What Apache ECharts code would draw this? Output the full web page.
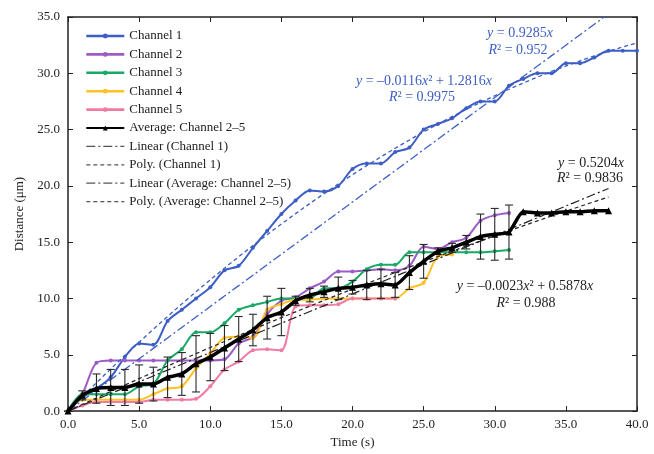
<!DOCTYPE html>
<html><head><meta charset="utf-8">
<script src="https://cdn.jsdelivr.net/npm/echarts@6/dist/echarts.min.js"></script>
<style>html,body{margin:0;padding:0;background:#fff}#c{width:654px;height:454px}</style>
</head><body><div id="c"></div>
<script>
// ---- data ----
const time = [0,1,2,3,4,5,6,7,8,9,10,11,12,13,14,15,16,17,18,19,20,21,22,23,24,25,26,27,28,29,30,31,32,33,34,35,36,37,38,39,40];
const channel1 = [0,1.2,2.0,3.0,4.8,6.0,5.9,8.0,9.0,10.0,11.0,12.5,12.9,14.5,16.0,17.5,18.7,19.6,19.5,20.0,21.5,22.0,22.0,23.0,23.4,25.0,25.5,26.0,26.9,27.5,27.5,28.9,29.5,30.0,30.0,30.9,30.9,31.4,32.0,32.0,32.0];
const channel2 = [0,1.5,4.3,4.5,4.5,4.5,4.5,4.5,4.5,4.5,4.5,4.6,6.0,6.6,8.6,9.8,10.1,10.9,11.5,12.4,12.4,12.5,12.6,12.5,12.9,14.6,14.4,15.0,15.4,16.9,17.4,17.6];
const channel3 = [0,1.5,1.5,1.5,1.5,2.2,2.4,4.5,5.5,7.0,7.0,7.8,9.0,9.4,9.7,10.0,10.0,10.0,10.9,10.9,11.5,12.6,13.0,13.0,14.1,14.1,14.1,14.1,14.1,14.1,14.2,14.3];
const channel4 = [0,1.0,1.0,1.0,1.0,1.0,1.5,2.0,2.2,3.8,5.1,6.5,6.6,6.5,9.0,9.5,9.9,9.9,10.0,10.0,10.0,10.0,10.0,10.0,10.9,11.4,13.7,13.9];
const channel5 = [0,0.5,0.8,0.8,0.8,0.8,1.0,1.0,1.0,1.1,2.2,3.7,4.4,5.4,5.5,5.4,9.3,9.4,9.4,9.5,10.0,10.0,10.0,10.0];
const average = [0,1.4,2.0,2.1,2.1,2.4,2.4,3.0,3.3,4.2,4.8,5.6,6.4,7.2,8.3,8.8,9.8,10.3,10.6,10.9,11.0,11.2,11.3,11.2,12.3,13.3,14.2,14.5,15.0,15.5,15.7,15.9,17.7,17.6,17.6,17.7,17.7,17.8,17.8];
const averageErr = [0,0.4,1.3,1.6,1.6,1.7,1.5,1.8,1.9,2.5,2.1,2.0,2.0,1.4,1.9,2.1,0.4,0.6,0.5,1.0,0.6,1.3,1.3,1.1,1.5,1.5,0.3,0.4,0.6,2.0,2.3,2.4];
// trend-line coefficients as printed in the chart: [a2, a1] for y = a2*x^2 + a1*x
const linCh1 = [0, 0.9285];
const polyCh1 = [-0.0116, 1.2816];
const linAvg = [0, 0.5204];
const polyAvg = [-0.0023, 0.5878];
const trendRangeCh1 = [0, 40];
const trendRangeAvg = [0, 38];
const xTicks = [0,5,10,15,20,25,30,35,40];
const yTicks = [0,5,10,15,20,25,30,35];

const pairs = (arr) => arr.map((v,i)=>[time[i], v]);
const trend = (c, r) => { const out=[]; for (let x=r[0]; x<=r[1]+1e-9; x+=0.5) out.push([x, c[0]*x*x + c[1]*x]); return out; };
const errData = averageErr.map((e,i)=>[time[i], average[i]-e, average[i]+e]);

const FONT = 'Liberation Serif';
const C1='#3D5EC4', C2='#9B5CC6', C3='#19A866', C4='#FFC125', C5='#F27BA5';

const axisCommon = {
  type:'value', splitLine:{show:false},
  axisLine:{show:true, onZero:false, lineStyle:{color:'#222', width:1.5}},
  axisTick:{show:true, inside:true, length:5, lineStyle:{color:'#222', width:1}},
};
const chart = echarts.init(document.getElementById('c'), null, {renderer:'canvas'});
const lineSeries = (name, arr, color) => ({
  name, type:'line', data: pairs(arr), smooth:0.3, symbol:'circle', symbolSize:4, showSymbol:true,
  lineStyle:{color, width:2}, itemStyle:{color}, z:3
});
const grayLegend = {color:'#555', width:1.2};
const hiddenSym = {opacity:0};
const chLegend = (name, c) => ({name, lineStyle:{color:c, width:2.6}});
chart.setOption({
  animation:false,
  backgroundColor:'#fff',
  grid:{left:68, right:17, top:17, bottom:41},
  xAxis:[
    Object.assign({}, axisCommon, {min:xTicks[0], max:xTicks[xTicks.length-1], interval:5, position:'bottom',
      axisLabel:{formatter:v=>v.toFixed(1), color:'#222', fontFamily:FONT, fontSize:13, margin:7},
      name:'Time (s)', nameLocation:'middle', nameGap:22, nameTextStyle:{fontFamily:FONT, fontSize:13, color:'#222'}}),
    Object.assign({}, axisCommon, {min:xTicks[0], max:xTicks[xTicks.length-1], interval:5, position:'top', axisLabel:{show:false}})
  ],
  yAxis:[
    Object.assign({}, axisCommon, {min:yTicks[0], max:yTicks[yTicks.length-1], interval:5, position:'left',
      axisLabel:{formatter:v=>v.toFixed(1), color:'#222', fontFamily:FONT, fontSize:13, margin:8},
      name:'Distance (μm)', nameLocation:'middle', nameGap:37, nameTextStyle:{fontFamily:FONT, fontSize:13, color:'#222'}}),
    Object.assign({}, axisCommon, {min:yTicks[0], max:yTicks[yTicks.length-1], interval:5, position:'right', axisLabel:{show:false}})
  ],
  legend:{
    orient:'vertical', left:85, top:29, padding:0, itemWidth:38, itemHeight:6, itemGap:4.4,
    textStyle:{fontFamily:FONT, fontSize:13, color:'#222', lineHeight:14},
    data:[
      chLegend('Channel 1', C1), chLegend('Channel 2', C2), chLegend('Channel 3', C3),
      chLegend('Channel 4', C4), chLegend('Channel 5', C5),
      {name:'Average: Channel 2–5', itemStyle:{color:'#000'}},
      {name:'Linear (Channel 1)', lineStyle:grayLegend, itemStyle:hiddenSym},
      {name:'Poly. (Channel 1)', lineStyle:grayLegend, itemStyle:hiddenSym},
      {name:'Linear (Average: Channel 2–5)', lineStyle:grayLegend, itemStyle:hiddenSym},
      {name:'Poly. (Average: Channel 2–5)', lineStyle:grayLegend, itemStyle:hiddenSym}
    ]
  },
  series:[
    lineSeries('Channel 1', channel1, C1),
    lineSeries('Channel 2', channel2, C2),
    lineSeries('Channel 3', channel3, C3),
    lineSeries('Channel 4', channel4, C4),
    lineSeries('Channel 5', channel5, C5),
    {name:'Linear (Channel 1)', type:'line', data:trend(linCh1, trendRangeCh1), symbol:'none', clip:true,
      lineStyle:{color:C1, width:1.3, type:[9,3,2,3]}, itemStyle:{color:C1}, z:4},
    {name:'Poly. (Channel 1)', type:'line', data:trend(polyCh1, trendRangeCh1), symbol:'none',
      lineStyle:{color:C1, width:1.3, type:[4,3]}, itemStyle:{color:C1}, z:4},
    {name:'Linear (Average: Channel 2–5)', type:'line', data:trend(linAvg, trendRangeAvg), symbol:'none',
      lineStyle:{color:'#222', width:1.2, type:[9,3,2,3]}, itemStyle:{color:'#222'}, z:4},
    {name:'Poly. (Average: Channel 2–5)', type:'line', data:trend(polyAvg, trendRangeAvg), symbol:'none',
      lineStyle:{color:'#222', width:1.2, type:[4,3]}, itemStyle:{color:'#222'}, z:4},
    {type:'custom', z:5, data:errData, encode:{x:0, y:[1,2]},
      renderItem:(params, api)=>{
        const x=api.value(0), lo=api.value(1), hi=api.value(2);
        const a=api.coord([x,lo]), b=api.coord([x,hi]); const w=4;
        const st={stroke:'#2a2a2a', lineWidth:1.1};
        return {type:'group', children:[
          {type:'line', shape:{x1:a[0],y1:a[1],x2:b[0],y2:b[1]}, style:st},
          {type:'line', shape:{x1:a[0]-w,y1:a[1],x2:a[0]+w,y2:a[1]}, style:st},
          {type:'line', shape:{x1:b[0]-w,y1:b[1],x2:b[0]+w,y2:b[1]}, style:st}
        ]};
      }},
    {name:'Average: Channel 2–5', type:'line', data:pairs(average), smooth:0.2, symbol:'triangle', symbolSize:7,
      lineStyle:{color:'#000', width:3.5}, itemStyle:{color:'#000'}, z:6}
  ],
  graphic:[
    ['{i|y} = 0.9285{i|x}', 520, 33, C1],
    ['{i|R}² = 0.952', 518, 50, C1],
    ['{i|y} = –0.0116{i|x}² + 1.2816{i|x}', 424, 81, C1],
    ['{i|R}² = 0.9975', 422, 97, C1],
    ['{i|y} = 0.5204{i|x}', 591, 163, '#222'],
    ['{i|R}² = 0.9836', 590, 178, '#222'],
    ['{i|y} = –0.0023{i|x}² + 0.5878{i|x}', 525, 286, '#222'],
    ['{i|R}² = 0.988', 526, 303, '#222']
  ].map(([t,x,y,c])=>({type:'text', x, y, z:100, style:{
    text:t, fill:c, fontFamily:FONT, fontSize:14, align:'center', verticalAlign:'middle',
    rich:{i:{fontStyle:'italic', fontFamily:FONT, fontSize:14, fill:c}}
  }}))
});
</script></body></html>
